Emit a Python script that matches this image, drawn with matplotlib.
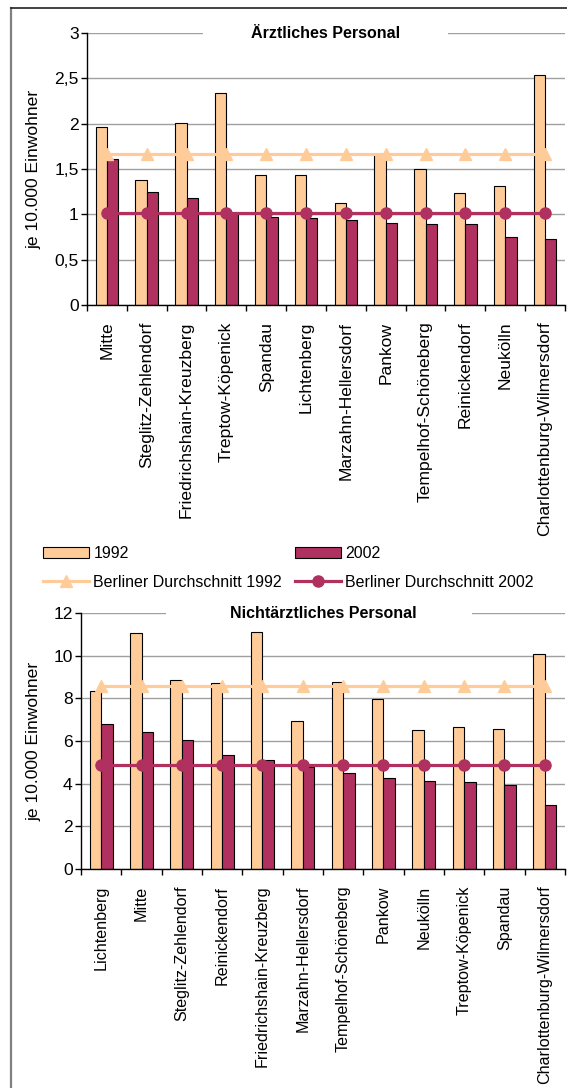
import numpy as np
import matplotlib.pyplot as plt
from matplotlib.lines import Line2D
from matplotlib.patches import Patch, Rectangle
from matplotlib.ticker import FuncFormatter

plt.rcParams['font.family'] = ['Liberation Sans', 'DejaVu Sans']
plt.rcParams['font.size'] = 12.6

# Ärztliches Personal je 10.000 Einwohner
bezirke_arzt = ["Mitte", "Steglitz-Zehlendorf", "Friedrichshain-Kreuzberg", "Treptow-Köpenick",
                "Spandau", "Lichtenberg", "Marzahn-Hellersdorf", "Pankow",
                "Tempelhof-Schöneberg", "Reinickendorf", "Neukölln", "Charlottenburg-Wilmersdorf"]
arzt_1992 = [1.96, 1.38, 2.01, 2.34, 1.43, 1.43, 1.13, 1.67, 1.50, 1.24, 1.31, 2.54]
arzt_2002 = [1.61, 1.25, 1.18, 1.02, 0.97, 0.96, 0.94, 0.90, 0.89, 0.89, 0.75, 0.73]
arzt_berlin_1992 = 1.66
arzt_berlin_2002 = 1.015

# Nichtärztliches Personal je 10.000 Einwohner
bezirke_nicht = ["Lichtenberg", "Mitte", "Steglitz-Zehlendorf", "Reinickendorf",
                 "Friedrichshain-Kreuzberg", "Marzahn-Hellersdorf", "Tempelhof-Schöneberg", "Pankow",
                 "Neukölln", "Treptow-Köpenick", "Spandau", "Charlottenburg-Wilmersdorf"]
nicht_1992 = [8.36, 11.08, 8.87, 8.72, 11.12, 6.94, 8.78, 7.98, 6.52, 6.67, 6.55, 10.09]
nicht_2002 = [6.81, 6.44, 6.06, 5.36, 5.12, 4.80, 4.52, 4.28, 4.12, 4.09, 3.95, 3.00]
nicht_berlin_1992 = 8.58
nicht_berlin_2002 = 4.875

c92 = "#FFCC99"
c02 = "#B0305F"
grid_c = "#A0A0A0"

W, H = 567, 1088
fig = plt.figure(figsize=(W / 100, H / 100), dpi=100)


def box(left, top, right, bottom):
    return [left / W, 1 - bottom / H, (right - left) / W, (bottom - top) / H]


def chart(ax, names, v92, v02, avg92, avg02, ymax, ystep, title, gap, xfs):
    n = len(names)
    x = np.arange(n) + 0.5
    w = 1 / 3.5
    ax.set_axisbelow(True)
    ax.yaxis.grid(True, color=grid_c, linewidth=1)
    ax.bar(x - w / 2, v92, w, color=c92, edgecolor="black", linewidth=0.8, zorder=2)
    ax.bar(x + w / 2, v02, w, color=c02, edgecolor="black", linewidth=0.8, zorder=2)
    ax.plot(x, [avg92] * n, color=c92, lw=2.3, marker="^", ms=8, zorder=3)
    ax.plot(x, [avg02] * n, color=c02, lw=2.3, marker="o", ms=8, zorder=3)

    ax.set_xlim(0, n)
    ax.set_ylim(0, ymax)
    ax.set_yticks(np.arange(0, ymax + ystep / 2, ystep))
    ax.yaxis.set_major_formatter(FuncFormatter(lambda v, p: f"{v:g}".replace(".", ",")))
    ax.set_xticks(x)
    ax.set_xticklabels(names, rotation=90, va="top", ha="center", fontsize=xfs)
    ax.set_xticks(np.arange(n + 1), minor=True)
    ax.tick_params(axis="x", which="major", length=0, pad=12)
    ax.tick_params(axis="x", which="minor", length=4, direction="out", width=1)
    ax.tick_params(axis="y", length=4, direction="out", width=1, pad=2)
    for s in ("top", "right"):
        ax.spines[s].set_visible(False)
    ax.spines["left"].set_linewidth(1)
    ax.spines["bottom"].set_linewidth(1)
    ax.set_ylabel("je 10.000 Einwohner")

    # white band behind the chart title, covering the top gridline
    ax.add_patch(Rectangle((gap[0], 0.97), gap[1] - gap[0], 0.06, transform=ax.transAxes,
                           facecolor="white", edgecolor="none", zorder=1, clip_on=False))
    ax.text(0.5, 1.0, title, transform=ax.transAxes, ha="center", va="center",
            fontweight="bold", fontsize=11.5, zorder=5)


ax1 = fig.add_axes(box(87, 33, 565, 305))
chart(ax1, bezirke_arzt, arzt_1992, arzt_2002, arzt_berlin_1992, arzt_berlin_2002,
      3, 0.5, "Ärztliches Personal", ((203 - 87) / 478, (448 - 87) / 478), 12.6)
ax1.yaxis.set_label_coords(-46 / 478, 0.5)

ax2 = fig.add_axes(box(81, 613, 565, 869))
chart(ax2, bezirke_nicht, nicht_1992, nicht_2002, nicht_berlin_1992, nicht_berlin_2002,
      12, 2, "Nichtärztliches Personal", ((166 - 81) / 484, (472 - 81) / 484), 11.6)
ax2.yaxis.set_label_coords(-40 / 484, 0.5)

handles = [
    Patch(facecolor=c92, edgecolor="black", linewidth=0.8),
    Line2D([], [], color=c92, lw=2.3, marker="^", ms=8),
    Patch(facecolor=c02, edgecolor="black", linewidth=0.8),
    Line2D([], [], color=c02, lw=2.3, marker="o", ms=8),
]
labels = ["1992", "Berliner Durchschnitt 1992", "2002", "Berliner Durchschnitt 2002"]
fig.legend(handles, labels, ncol=2, loc="upper left", bbox_to_anchor=(35 / W, 1 - 538 / H),
           frameon=False, fontsize=11.5, handlelength=2.9, handleheight=0.7, handletextpad=0.25,
           columnspacing=0.8, labelspacing=0.85, borderpad=0)

# outer frame
fig.add_artist(Line2D([11 / W, 11 / W], [0, 1 - 8 / H], color="#808080", lw=1.6))
fig.add_artist(Line2D([11 / W, 1], [1 - 8 / H, 1 - 8 / H], color="#222222", lw=1.2))

fig.savefig("out.png", dpi=100)
